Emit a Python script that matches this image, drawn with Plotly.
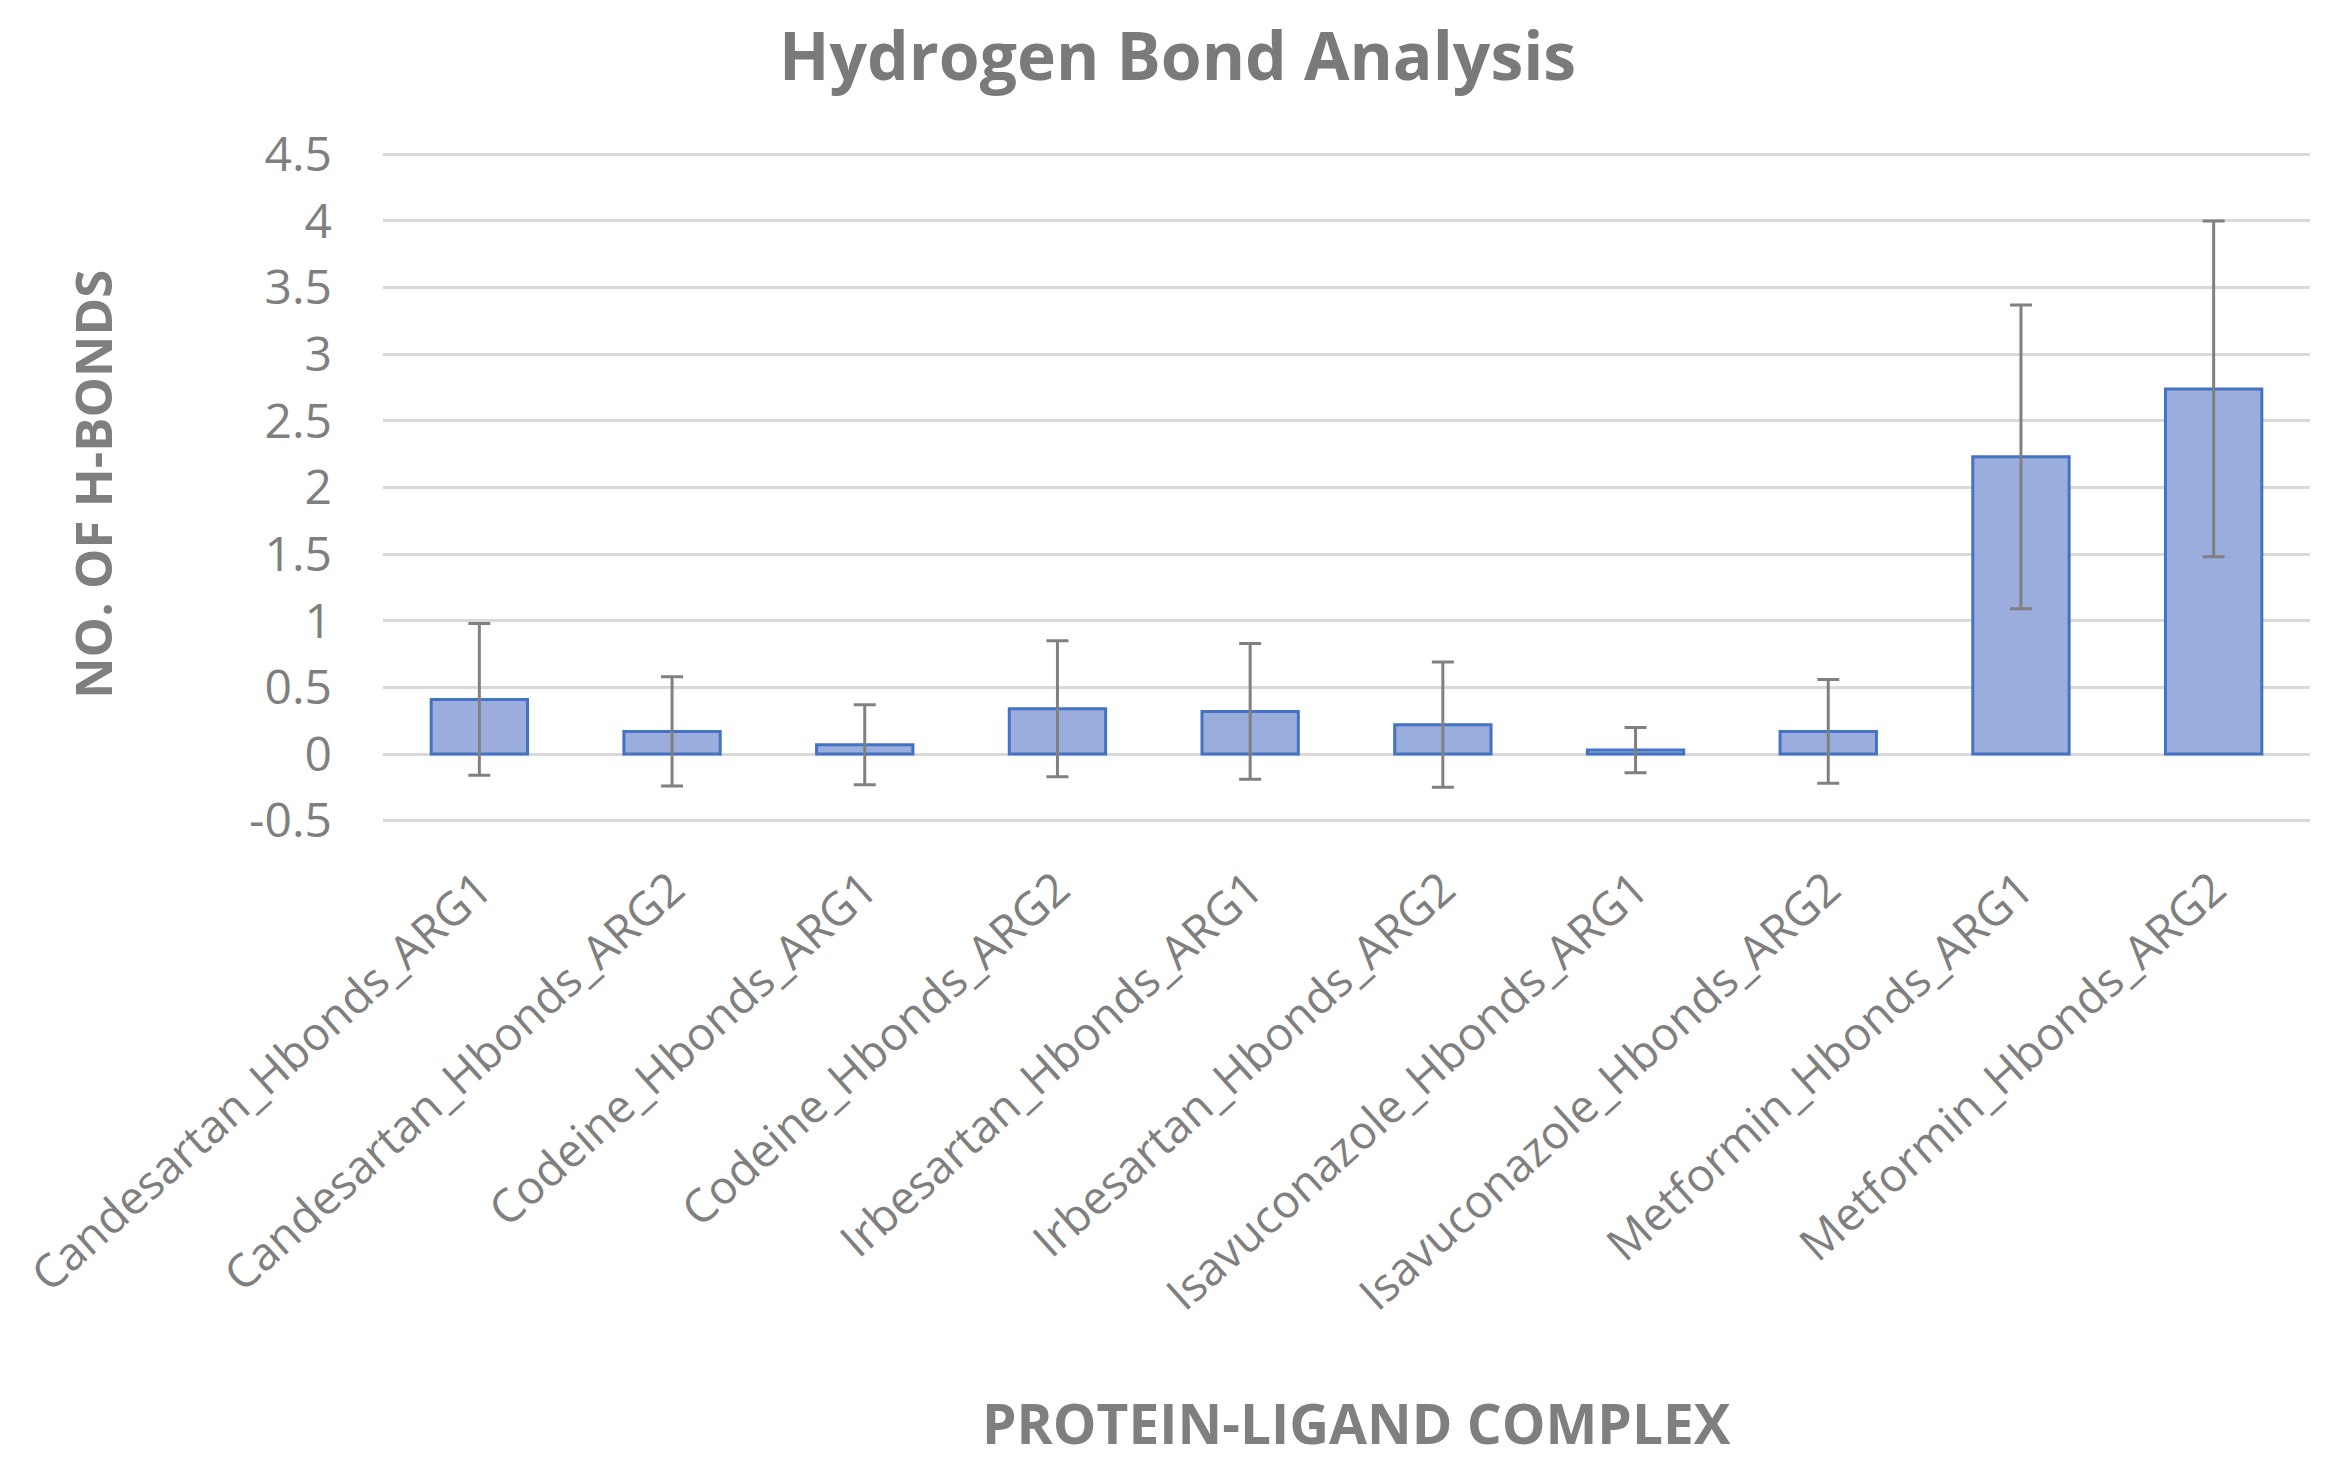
import plotly.graph_objects as go

# Data
complexes = [
    "Candesartan_Hbonds_ARG1", "Candesartan_Hbonds_ARG2",
    "Codeine_Hbonds_ARG1", "Codeine_Hbonds_ARG2",
    "Irbesartan_Hbonds_ARG1", "Irbesartan_Hbonds_ARG2",
    "Isavuconazole_Hbonds_ARG1", "Isavuconazole_Hbonds_ARG2",
    "Metformin_Hbonds_ARG1", "Metformin_Hbonds_ARG2",
]
mean_hbonds = [0.41, 0.17, 0.07, 0.34, 0.32, 0.22, 0.03, 0.17, 2.23, 2.74]
std_hbonds = [0.57, 0.41, 0.30, 0.51, 0.51, 0.47, 0.17, 0.39, 1.14, 1.26]
y_ticks = [-0.5, 0, 0.5, 1, 1.5, 2, 2.5, 3, 3.5, 4, 4.5]

grey = "#7f7f7f"
font = "Open Sans"

fig = go.Figure()
fig.add_trace(go.Bar(
    x=complexes, y=mean_hbonds,
    marker=dict(color="#9aaddd", line=dict(color="#4472c4", width=3)),
    error_y=dict(type="data", array=std_hbonds, visible=True,
                 color="#808080", thickness=3, width=11),
))

# Page body adds an 8px offset, margins account for it
fig.update_layout(
    width=2332, height=1460,
    margin=dict(l=375, r=30, t=145, b=646),
    plot_bgcolor="white", paper_bgcolor="white",
    showlegend=False, bargap=0.5,
    font=dict(family=font, color=grey, size=48),
)
fig.update_yaxes(
    range=[-0.51, 4.51], tickvals=y_ticks, ticktext=[f"{v:g}" for v in y_ticks],
    showgrid=True, gridcolor="#d9d9d9", gridwidth=3,
    zeroline=True, zerolinecolor="#d9d9d9", zerolinewidth=3,
    showline=False, ticks="", ticklabelstandoff=50, automargin=False,
    tickfont=dict(size=48, color=grey),
)
fig.update_xaxes(
    showgrid=False, showline=False, ticks="", tickangle=-42,
    ticklabelstandoff=30, automargin=False,
    tickfont=dict(size=46, color=grey),
)

# Chart title and axis titles placed as annotations
fig.add_annotation(text="<b>Hydrogen Bond Analysis</b>", xref="paper", yref="paper",
                   x=0.4125, y=1.148, showarrow=False,
                   xanchor="center", yanchor="middle",
                   font=dict(family=font, size=66, color="#7a7a7a"))
fig.add_annotation(text="<b>NO. OF H-BONDS</b>", xref="paper", yref="paper",
                   x=-0.151, y=0.504, textangle=-90, showarrow=False,
                   xanchor="center", yanchor="middle",
                   font=dict(family=font, size=51, color=grey))
fig.add_annotation(text="<b>PROTEIN-LIGAND COMPLEX</b>", xref="paper", yref="paper",
                   x=0.505, y=-0.898, showarrow=False,
                   xanchor="center", yanchor="middle",
                   font=dict(family=font, size=55, color=grey))

fig.write_html("out.html")
